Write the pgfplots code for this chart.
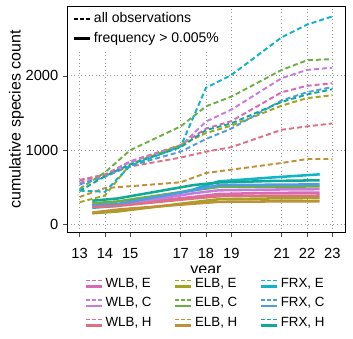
\documentclass[border=0pt]{standalone}
\usepackage{fontspec}
\setmainfont{Liberation Sans}
\usepackage{pgfplots}
\pgfplotsset{compat=1.18}
\usetikzlibrary{calc}

\definecolor{wlbE}{HTML}{D969B3}
\definecolor{wlbC}{HTML}{C77CDD}
\definecolor{wlbH}{HTML}{DE7084}
\definecolor{elbE}{HTML}{A3A31E}
\definecolor{elbC}{HTML}{6BAF45}
\definecolor{elbH}{HTML}{BE9137}
\definecolor{frxE}{HTML}{10B4C8}
\definecolor{frxC}{HTML}{509BE1}
\definecolor{frxH}{HTML}{10A896}

\pgfplotsset{
  dsh/.style={line width=1.45pt, dash pattern=on 3.8pt off 2.2pt},
  sld/.style={line width=1.9pt},
}

\begin{document}
\begin{tikzpicture}
\begin{axis}[
  name=ax,
  at={(0,0)}, anchor=south west,
  width=208.5pt, height=170pt, scale only axis,
  xmin=12.5, xmax=23.5, ymin=-110, ymax=2940,
  xtick={13,14,15,17,18,19,21,22,23},
  ytick={0,1000,2000},
  grid=major,
  grid style={gray!80, dash pattern=on 0.7pt off 2pt, line width=0.6pt},
  tick align=outside, tick pos=left,
  major tick length=3pt,
  tick style={black!70, line width=0.5pt},
  axis line style={black, line width=0.7pt},
  tick label style={font=\fontsize{11}{12}\selectfont},
  xticklabel style={yshift=-5pt},
  label style={font=\fontsize{12}{14}\selectfont},
  /pgf/number format/assume math mode=true,
  /pgf/number format/1000 sep={},
  xlabel={year}, ylabel={cumulative species count},
  xlabel style={yshift=1pt},
  ylabel style={yshift=-5.5pt},
  legend columns=3,
  legend cell align=left,
  legend style={at={(0.5,-0.175)}, anchor=north, draw=none,
    font=\fontsize{10}{12}\selectfont, row sep=2.2pt,
    /tikz/every even column/.append style={column sep=15pt}},
  legend image code/.code={
    \draw[#1, dash pattern=on 3pt off 1.5pt, line width=1.2pt] (0pt,2.2pt) -- (12pt,2.2pt);
    \draw[#1, solid, line width=1.6pt] (0pt,-2.2pt) -- (12pt,-2.2pt);
  },
]
% all observations (dashed)
\addplot[dsh, wlbE, forget plot] coordinates {(13,590)(14,670)(15,850)(17,1070)(18,1290)(19,1390)(21,1780)(22,1866)(23,1900)};
\addplot[dsh, wlbC, forget plot] coordinates {(13,560)(14,660)(15,840)(17,1060)(18,1385)(19,1545)(21,1970)(22,2080)(23,2110)};
\addplot[dsh, wlbH, forget plot] coordinates {(13,600)(14,670)(15,780)(17,900)(18,980)(19,1040)(21,1275)(22,1320)(23,1360)};
\addplot[dsh, elbE, forget plot] coordinates {(13,300)(14,390)(15,810)(17,1070)(18,1230)(19,1330)(21,1600)(22,1700)(23,1740)};
\addplot[dsh, elbC, forget plot] coordinates {(13,480)(14,700)(15,1000)(17,1320)(18,1590)(19,1720)(21,2080)(22,2210)(23,2225)};
\addplot[dsh, elbH, forget plot] coordinates {(13,370)(14,490)(15,515)(17,568)(18,693)(19,738)(21,828)(22,881)(23,881)};
\addplot[dsh, frxC, forget plot] coordinates {(13,540)(14,640)(15,790)(17,980)(18,1150)(19,1290)(21,1670)(22,1780)(23,1850)};
\addplot[dsh, frxH, forget plot] coordinates {(13,450)(14,650)(15,810)(17,1040)(18,1270)(19,1360)(21,1650)(22,1750)(23,1820)};
\addplot[dsh, frxE, forget plot] coordinates {(13,455)(14,440)(15,790)(17,1050)(18,1840)(19,2010)(21,2520)(22,2690)(23,2800)};

% frequency > 0.005% (solid), legend order row by row
\addplot[sld, wlbE] coordinates {(13.5,265)(14.5,270)(17.5,370)(18.5,410)(20.5,425)(22.5,430)};
\addlegendentry{WLB, E}
\addplot[sld, elbE] coordinates {(13.5,150)(14.5,175)(17.5,300)(18.5,340)(20.5,350)(22.5,355)};
\addlegendentry{ELB, E}
\addplot[sld, frxE] coordinates {(13.5,225)(14.5,250)(17.5,470)(18.5,580)(20.5,630)(22.5,675)};
\addlegendentry{FRX, E}
\addplot[sld, wlbC] coordinates {(13.5,240)(14.5,260)(17.5,420)(18.5,460)(20.5,470)(22.5,475)};
\addlegendentry{WLB, C}
\addplot[sld, elbC] coordinates {(13.5,285)(14.5,310)(17.5,460)(18.5,505)(20.5,510)(22.5,512)};
\addlegendentry{ELB, C}
\addplot[sld, frxC] coordinates {(13.5,255)(14.5,275)(17.5,460)(18.5,530)(20.5,535)(22.5,540)};
\addlegendentry{FRX, C}
\addplot[sld, wlbH] coordinates {(13.5,235)(14.5,250)(17.5,350)(18.5,380)(20.5,388)(22.5,390)};
\addlegendentry{WLB, H}
\addplot[sld, elbH] coordinates {(13.5,160)(14.5,200)(17.5,280)(18.5,305)(20.5,310)(22.5,313)};
\addlegendentry{ELB, H}
\addplot[sld, frxH] coordinates {(13.5,320)(14.5,350)(17.5,530)(18.5,565)(20.5,585)(22.5,595)};
\addlegendentry{FRX, H}
\end{axis}

% inner legend for the line types
\begin{axis}[
  at={(0,0)}, anchor=south west,
  width=208.5pt, height=170pt, scale only axis,
  xmin=0, xmax=1, ymin=0, ymax=1,
  hide axis,
  legend cell align=left,
  legend style={at={(0.005,0.995)}, anchor=north west, draw=none, fill=white,
    font=\fontsize{10.5}{12}\selectfont, row sep=1.5pt},
  legend image code/.code={\draw[#1] (0pt,0pt) -- (12pt,0pt);},
]
\addlegendimage{black, line width=1.4pt, dash pattern=on 3pt off 1.5pt}
\addlegendentry{all observations}
\addlegendimage{black, line width=2pt}
\addlegendentry{frequency > 0.005\%}
\end{axis}

\path ($(ax.south west)+(-50.25pt,-79.5pt)$) rectangle ($(ax.north east)+(6pt,4.5pt)$);
\end{tikzpicture}
\end{document}
